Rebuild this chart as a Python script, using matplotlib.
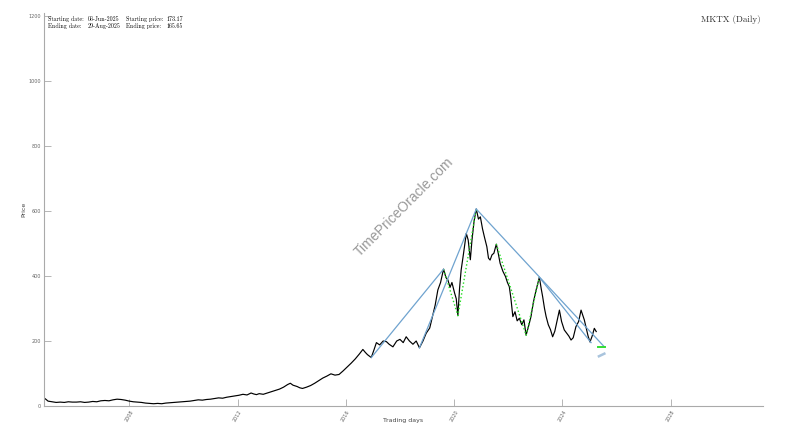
import numpy as np
import matplotlib
matplotlib.use("Agg")
import matplotlib.pyplot as plt

# MKTX daily close (decimal year, price)
dates = [
    2004.85, 2004.93, 2005.0, 2005.15, 2005.3, 2005.45, 2005.6, 2005.75, 2005.9,
    2006.05, 2006.2, 2006.35, 2006.5, 2006.65, 2006.8, 2006.95, 2007.1, 2007.25,
    2007.4, 2007.55, 2007.7, 2007.85, 2008.0, 2008.15, 2008.3, 2008.45, 2008.6,
    2008.75, 2008.9, 2009.05, 2009.2, 2009.35, 2009.5, 2009.65, 2009.8, 2009.95,
    2010.1, 2010.25, 2010.4, 2010.55, 2010.7, 2010.85, 2011.0, 2011.15, 2011.3,
    2011.45, 2011.6, 2011.75, 2011.9, 2012.05, 2012.2, 2012.35, 2012.5, 2012.6,
    2012.7, 2012.8, 2012.95, 2013.1, 2013.25, 2013.4, 2013.55, 2013.7, 2013.85,
    2013.95, 2014.05, 2014.2, 2014.3, 2014.4, 2014.55, 2014.7, 2014.85, 2015.0,
    2015.15, 2015.3, 2015.45, 2015.6, 2015.75, 2015.9, 2016.05, 2016.2, 2016.35,
    2016.5, 2016.63, 2016.72, 2016.8, 2016.94, 2017.05, 2017.13, 2017.25, 2017.38,
    2017.5, 2017.6, 2017.74, 2017.88, 2018.0, 2018.12, 2018.23, 2018.35, 2018.48,
    2018.6, 2018.72, 2018.85, 2018.97, 2019.1, 2019.2, 2019.3, 2019.4, 2019.5,
    2019.61, 2019.7, 2019.77, 2019.85, 2019.92, 2020.02, 2020.08, 2020.14, 2020.2,
    2020.26, 2020.35, 2020.45, 2020.52, 2020.6, 2020.66, 2020.74, 2020.82, 2020.9,
    2020.97, 2021.05, 2021.12, 2021.21, 2021.27, 2021.33, 2021.4, 2021.47, 2021.56,
    2021.63, 2021.7, 2021.8, 2021.9, 2021.97, 2022.04, 2022.1, 2022.17, 2022.25,
    2022.33, 2022.41, 2022.5, 2022.58, 2022.66, 2022.75, 2022.84, 2022.93, 2023.03,
    2023.1, 2023.15, 2023.22, 2023.27, 2023.34, 2023.4, 2023.48, 2023.56, 2023.64,
    2023.72, 2023.8, 2023.89, 2023.97, 2024.07, 2024.15, 2024.24, 2024.32, 2024.4,
    2024.5, 2024.6, 2024.69, 2024.75, 2024.81, 2024.88, 2024.95, 2025.02, 2025.1,
    2025.18, 2025.25,
]
prices = [
    25, 20, 15, 13, 11, 12, 11, 13, 12,
    12, 13, 11, 12, 14, 13, 16, 17, 16,
    19, 21, 20, 18, 15, 13, 12, 11, 9,
    8, 7, 8, 7, 9, 10, 11, 12, 13,
    14, 15, 17, 19, 18, 20, 21, 23, 25,
    24, 27, 29, 31, 33, 36, 34, 40, 37,
    35, 38, 36, 40, 44, 48, 52, 58, 66,
    70, 64, 60, 56, 54, 58, 63, 70, 78,
    86, 92, 99, 95, 97, 108, 120, 132, 145,
    160, 174, 165, 158, 149, 175, 195, 188, 200,
    198, 190, 182, 200, 205, 195, 213, 200, 190,
    200, 179, 200, 224, 240, 275, 310, 357, 380,
    421, 395, 388, 365, 380, 347, 330, 278, 360,
    418, 470, 531, 511, 450, 510, 570, 606, 575,
    582, 545, 520, 490, 455, 449, 465, 470, 498,
    470, 439, 415, 398, 380, 367, 330, 275, 290,
    262, 270, 250, 265, 218, 245, 275, 320, 357,
    380, 396, 360, 337, 300, 275, 250, 235, 213,
    230, 260, 295, 260, 234, 225, 215, 203, 210,
    244, 260, 295, 280, 265, 240, 215, 197, 215,
    239, 229,
]

# pivot zigzags (green dotted)
zig1_x = [2019.61, 2020.14, 2020.82]
zig1_y = [421, 278, 606]
zig2_x = [2021.56, 2022.66, 2023.15]
zig2_y = [498, 218, 396]

# trend lines (blue)
trend_lines = [
    ([2016.94, 2019.61], [149, 421]),
    ([2018.72, 2020.82], [179, 606]),
    ([2020.82, 2025.55], [606, 182]),
    ([2023.15, 2025.06], [396, 195]),
]

# projection marks at the end
proj_x = [2025.33, 2025.58]
proj_y = [182, 182]
proj2_x = [2025.35, 2025.55]
proj2_y = [153, 161]

year_ticks = [2008, 2012, 2016, 2020, 2024, 2028]
price_ticks = [0, 200, 400, 600, 800, 1000, 1200]

fig = plt.figure(figsize=(8.1, 4.25), dpi=100)
ax = fig.add_axes([0.0543, 0.0447, 0.8873, 0.9254])

ax.plot(dates, prices, color='black', lw=0.85)
ax.plot(zig1_x, zig1_y, color='#22dd22', lw=1.0, ls=':')
ax.plot(zig2_x, zig2_y, color='#22dd22', lw=1.0, ls=':')
for tx, ty in trend_lines:
    ax.plot(tx, ty, color='#6fa3cf', lw=0.9)
ax.plot(proj_x, proj_y, color='#33dd33', lw=1.4)
ax.plot(proj2_x, proj2_y, color='#a9c4dd', lw=1.8)

ax.set_xlim(2004.85, 2031.4)
ax.set_ylim(0, 1210)
ax.set_xticks(year_ticks)
ax.set_xticklabels([str(y) for y in year_ticks], rotation=60, fontsize=3.5, color='#666666')
ax.set_yticks(price_ticks)
ax.set_yticklabels([str(p) for p in price_ticks], fontsize=3.5, color='#666666')
ax.tick_params(direction='in', length=5, width=0.6, color='#aaaaaa', pad=2)
for s in ['top', 'right']:
    ax.spines[s].set_visible(False)
for s in ['left', 'bottom']:
    ax.spines[s].set_color('#aaaaaa')
    ax.spines[s].set_linewidth(0.8)

ax.set_ylabel('Price', fontsize=4.5, color='#444444')
ax.yaxis.set_label_coords(-0.024, 0.5)
ax.set_xlabel('Trading days', fontsize=4.5, color='#444444')
ax.xaxis.set_label_coords(0.5, -0.031)

ax.text(2018.17, 612, 'TimePriceOracle.com', rotation=45, fontsize=10,
        color='#999999', ha='center', va='center', family='Liberation Sans')

serif = 'cmr10'
fig.text(48 / 810, 1 - 19 / 425, 'Starting date:', fontsize=4.3, family=serif, va='center')
fig.text(88 / 810, 1 - 19 / 425, '06-Jun-2025', fontsize=4.3, family=serif, va='center')
fig.text(126 / 810, 1 - 19 / 425, 'Starting price:', fontsize=4.3, family=serif, va='center')
fig.text(167 / 810, 1 - 19 / 425, '173.17', fontsize=4.3, family=serif, va='center')
fig.text(48 / 810, 1 - 26 / 425, 'Ending date:', fontsize=4.3, family=serif, va='center')
fig.text(88 / 810, 1 - 26 / 425, '29-Aug-2025', fontsize=4.3, family=serif, va='center')
fig.text(126 / 810, 1 - 26 / 425, 'Ending price:', fontsize=4.3, family=serif, va='center')
fig.text(167 / 810, 1 - 26 / 425, '165.65', fontsize=4.3, family=serif, va='center')

fig.text(761 / 810, 1 - 20 / 425, 'MKTX (Daily)', fontsize=6.5, family=serif,
         ha='right', va='center', color='#333333')

fig.savefig('out.png', dpi=100)
